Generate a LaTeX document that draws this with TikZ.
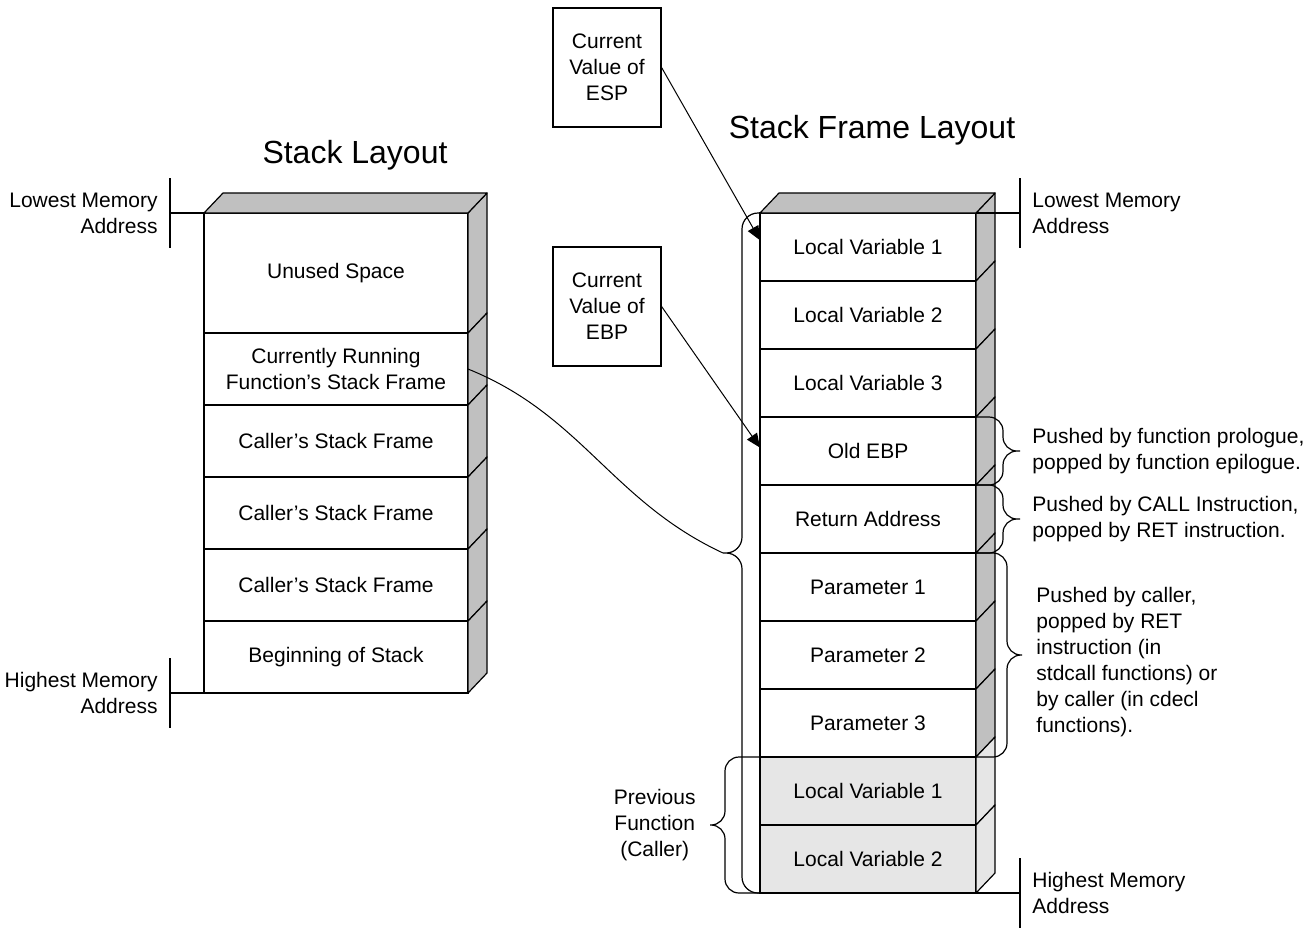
\documentclass[tikz,border=0pt]{standalone}
\usepackage{fontspec}
\setmainfont{Liberation Sans}
\usetikzlibrary{arrows.meta,positioning,calc}
\definecolor{frameSide}{HTML}{C0C0C0}
\definecolor{callerFill}{HTML}{E6E6E6}
\tikzset{
  base/.style={font=\fontsize{10.5}{13}\selectfont,inner sep=0pt},
  cell/.style={base,draw,fill=white,line width=0.6pt,outer sep=0pt,align=center},
  leftcell/.style={cell,minimum width=132pt,minimum height=36pt},
  rightcell/.style={cell,minimum width=108pt,minimum height=34pt},
  regbox/.style={base,draw,line width=0.6pt,align=center,
                 minimum width=54pt,minimum height=59.5pt},
  note/.style={base,align=left},
  title/.style={font=\fontsize{16}{19}\selectfont,inner sep=0pt},
  face/.style={draw,line width=0.6pt,line join=round},
  brace/.style={line width=0.6pt,rounded corners=7pt},
  pointer/.style={line width=0.5pt,-{Triangle[length=7pt,width=6pt]}},
}

\begin{document}
\begin{tikzpicture}[x=0.5pt,y=-0.5pt]
  \useasboundingbox (0,0) rectangle (1309,927);

  % titles
  \node[title] (leftTitle) at (355,155) {Stack Layout};
  \node[title] (rightTitle) at (872,130) {Stack Frame Layout};

  % left stack
  \node[leftcell,minimum height=60pt,anchor=north west] (l1) at (204,213) {Unused Space};
  \node[leftcell,below=0pt of l1] (l2) {Currently Running\\Function’s Stack Frame};
  \node[leftcell,below=0pt of l2] (l3) {Caller’s Stack Frame};
  \node[leftcell,below=0pt of l3] (l4) {Caller’s Stack Frame};
  \node[leftcell,below=0pt of l4] (l5) {Caller’s Stack Frame};
  \node[leftcell,below=0pt of l5] (l6) {Beginning of Stack};
  \foreach \i in {1,...,6}
    \draw[face,fill=frameSide] (l\i.north east) -- ++(19,-20)
      -- ($(l\i.south east)+(19,-20)$) -- (l\i.south east) -- cycle;
  \draw[face,fill=frameSide] (l1.north west) -- ++(19,-20)
    -- ($(l1.north east)+(19,-20)$) -- (l1.north east) -- cycle;

  % right stack
  \node[rightcell,anchor=north west] (r1) at (760,213) {Local Variable 1};
  \node[rightcell,below=0pt of r1] (r2) {Local Variable 2};
  \node[rightcell,below=0pt of r2] (r3) {Local Variable 3};
  \node[rightcell,below=0pt of r3] (r4) {Old EBP};
  \node[rightcell,below=0pt of r4] (r5) {Return Address};
  \node[rightcell,below=0pt of r5] (r6) {Parameter 1};
  \node[rightcell,below=0pt of r6] (r7) {Parameter 2};
  \node[rightcell,below=0pt of r7] (r8) {Parameter 3};
  \node[rightcell,fill=callerFill,below=0pt of r8] (r9) {Local Variable 1};
  \node[rightcell,fill=callerFill,below=0pt of r9] (r10) {Local Variable 2};
  \foreach \i/\c in {1/frameSide,2/frameSide,3/frameSide,4/frameSide,5/frameSide,
                     6/frameSide,7/frameSide,8/frameSide,9/callerFill,10/callerFill}
    \draw[face,fill=\c] (r\i.north east) -- ++(19,-20)
      -- ($(r\i.south east)+(19,-20)$) -- (r\i.south east) -- cycle;
  \draw[face,fill=frameSide] (r1.north west) -- ++(19,-20)
    -- ($(r1.north east)+(19,-20)$) -- (r1.north east) -- cycle;

  % memory address marks
  \draw[line width=0.6pt] (l1.north west) -- ++(-34,0) coordinate (lowLeft) ++(0,-35) -- ++(0,70);
  \node[note,align=right,left=6pt of lowLeft] (lowLeftText) {Lowest Memory\\Address};
  \draw[line width=0.6pt] (l6.south west) -- ++(-34,0) coordinate (highLeft) ++(0,-35) -- ++(0,70);
  \node[note,align=right,left=6pt of highLeft] (highLeftText) {Highest Memory\\Address};
  \draw[line width=0.6pt] (r1.north east) -- ++(44,0) coordinate (lowRight) ++(0,-35) -- ++(0,70);
  \node[note,right=6pt of lowRight] (lowRightText) {Lowest Memory\\Address};
  \draw[line width=0.6pt] (r10.south east) -- ++(44,0) coordinate (highRight) ++(0,-35) -- ++(0,70);
  \node[note,right=6pt of highRight] (highRightText) {Highest Memory\\Address};

  % register boxes
  \node[regbox] (esp) at (607,67.5) {Current\\Value of\\ESP};
  \node[regbox] (ebp) at (607,306.5) {Current\\Value of\\EBP};
  \draw[pointer] (esp.east) -- ($(r1.north west)!.4!(r1.south west)$);
  \draw[pointer] (ebp.east) -- ($(r4.north west)!.45!(r4.south west)$);

  % braces
  \coordinate (bigTip) at ($(r1.north west)!.5!(r10.south west)+(-37,0)$);
  \draw[brace,rounded corners=8pt] (r1.north west) -- ++(-18,0) |- (bigTip)
    (bigTip) -| ($(r10.south west)+(-18,0)$) -- (r10.south west);
  \draw[line width=0.5pt] (l2.east) to[out=-22,in=155] (bigTip);

  \draw[brace] (r4.north east) -- ++(27,0) |- ($(r4.east)+(44,0)$) coordinate (ebpTip)
    (ebpTip) -| ($(r4.south east)+(27,0)$) -- (r4.south east);
  \node[note,right=6pt of ebpTip] (ebpText) {Pushed by function prologue,\\popped by function epilogue.};

  \draw[brace] (r5.north east) -- ++(27,0) |- ($(r5.east)+(44,0)$) coordinate (retTip)
    (retTip) -| ($(r5.south east)+(27,0)$) -- (r5.south east);
  \node[note,right=6pt of retTip] (retText) {Pushed by CALL Instruction,\\popped by RET instruction.};

  \draw[brace] (r6.north east) -- ++(31,0) |- ($(r6.north east)!.5!(r8.south east)+(46,0)$) coordinate (parTip)
    (parTip) -| ($(r8.south east)+(31,0)$) -- (r8.south east);
  \node[note,right=7pt of parTip,yshift=-3.5pt] (parText) {Pushed by caller,\\popped by RET\\instruction (in\\stdcall functions) or\\by caller (in cdecl\\functions).};

  \coordinate (prevTip) at ($(r9.north west)!.5!(r10.south west)+(-50,0)$);
  \draw[brace] (r9.north west) -- ++(-35,0) |- (prevTip)
    (prevTip) -| ($(r10.south west)+(-35,0)$) -- (r10.south west);
  \node[note,align=center,left=7pt of prevTip] (prevText) {Previous\\Function\\(Caller)};
\end{tikzpicture}
\end{document}
